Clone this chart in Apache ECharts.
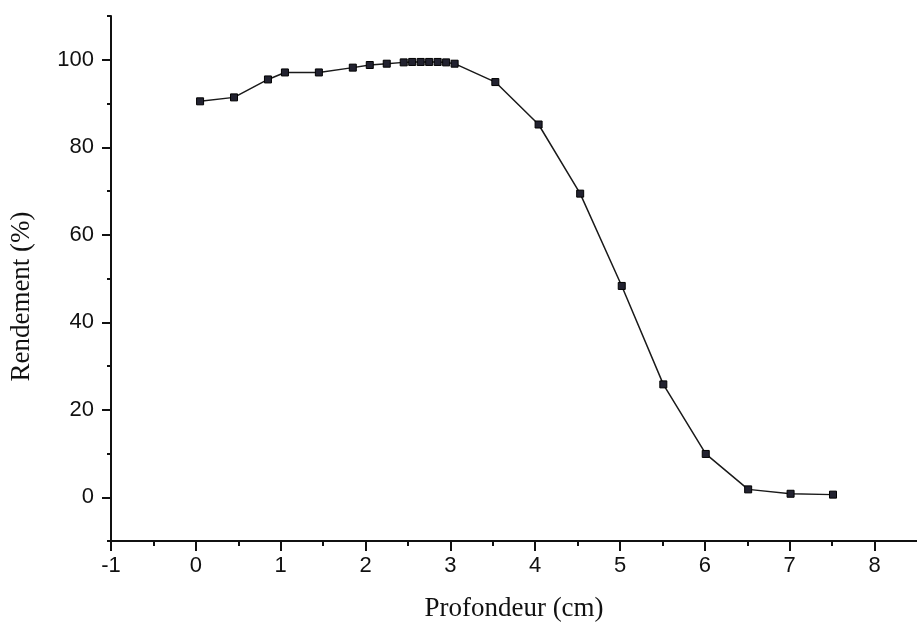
<!DOCTYPE html>
<html>
<head>
<meta charset="utf-8">
<script src="https://cdn.jsdelivr.net/npm/echarts@6/dist/echarts.min.js"></script>
<style>
  html, body { margin: 0; padding: 0; background: #fff; }
  #main { width: 917px; height: 627px; }
</style>
</head>
<body>
<div id="main"></div>
<script>
let depth = [0.05, 0.45, 0.85, 1.05, 1.45, 1.85, 2.05, 2.25, 2.45, 2.55, 2.65, 2.75, 2.85, 2.95, 3.05, 3.53, 4.04, 4.53, 5.02, 5.51, 6.01, 6.51, 7.01, 7.51];
let rendement = [90.5, 91.4, 95.5, 97.1, 97.1, 98.2, 98.8, 99.1, 99.4, 99.5, 99.5, 99.5, 99.5, 99.4, 99.1, 94.9, 85.2, 69.4, 48.3, 25.8, 9.9, 1.8, 0.8, 0.6];
let xMajor = [-1, 0, 1, 2, 3, 4, 5, 6, 7, 8];
let xMinor = [-0.5, 0.5, 1.5, 2.5, 3.5, 4.5, 5.5, 6.5, 7.5];
let yMajor = [0, 20, 40, 60, 80, 100];
let yMinor = [-10, 10, 30, 50, 70, 90, 110];

let dom = document.getElementById("main");
let myChart = echarts.init(dom);

let axisLine = { show: true, onZero: false, lineStyle: { color: '#111', width: 2 } };
let hiddenLine = { show: false, onZero: false };
let labelFont = { fontFamily: 'Liberation Sans', fontSize: 22, color: '#111' };
let nameFont = { fontFamily: 'Liberation Serif', fontSize: 27, color: '#111' };

let option = {
    animation: false,
    backgroundColor: '#fff',
    grid: { left: 108, top: 16, right: -8, bottom: 83, containLabel: false },
    xAxis: [
        {
            type: 'value', min: -1, max: 8.5, interval: 1,
            position: 'bottom',
            axisLine: axisLine,
            axisTick: { show: true, length: 10, customValues: xMajor, lineStyle: { color: '#111', width: 2 } },
            axisLabel: Object.assign({ customValues: xMajor, margin: 14 }, labelFont),
            splitLine: { show: false },
            name: 'Profondeur (cm)',
            nameLocation: 'middle',
            nameGap: 54,
            nameTextStyle: nameFont
        },
        {
            type: 'value', min: -1, max: 8.5, interval: 1,
            position: 'bottom',
            axisLine: hiddenLine,
            axisTick: { show: true, length: 5, customValues: xMinor, lineStyle: { color: '#111', width: 2 } },
            axisLabel: { show: false },
            splitLine: { show: false }
        }
    ],
    yAxis: [
        {
            type: 'value', min: -10, max: 110, interval: 10,
            position: 'left',
            axisLine: axisLine,
            axisTick: { show: true, length: 9, customValues: yMajor, lineStyle: { color: '#111', width: 2 } },
            axisLabel: Object.assign({ customValues: yMajor, margin: 17 }, labelFont),
            splitLine: { show: false },
            name: 'Rendement (%)',
            nameLocation: 'middle',
            nameGap: 76,
            nameRotate: 90,
            nameTextStyle: Object.assign({ padding: [0, 36, 0, 0] }, nameFont)
        },
        {
            type: 'value', min: -10, max: 110, interval: 10,
            position: 'left',
            axisLine: hiddenLine,
            axisTick: { show: true, length: 4, customValues: yMinor, lineStyle: { color: '#111', width: 2 } },
            axisLabel: { show: false },
            splitLine: { show: false }
        }
    ],
    series: [
        {
            type: 'line',
            xAxisIndex: 0,
            yAxisIndex: 0,
            data: depth.map(function (d, i) { return [d, rendement[i]]; }),
            symbol: 'rect',
            symbolSize: 7,
            showAllSymbol: true,
            lineStyle: { color: '#1a1a1a', width: 1.5 },
            itemStyle: { color: '#222230', borderColor: '#000', borderWidth: 1 }
        }
    ]
};

if (option && typeof option === "object") {
    myChart.setOption(option, true);
    window.addEventListener("resize", function () {
        myChart.resize();
    });
}
</script>
</body>
</html>
